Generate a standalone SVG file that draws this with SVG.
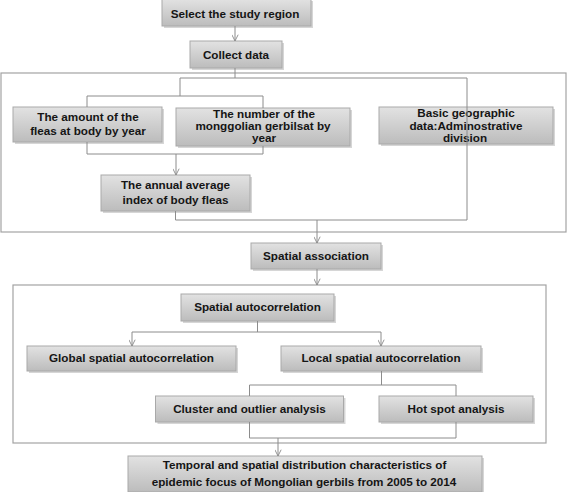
<svg xmlns="http://www.w3.org/2000/svg" width="567" height="492" viewBox="0 0 567 492">
<defs>
<linearGradient id="g" x1="0" y1="0" x2="0" y2="1">
<stop offset="0" stop-color="#e2e2e2"/>
<stop offset="1" stop-color="#bcbcbc"/>
</linearGradient>
<marker id="a" viewBox="0 0 10 10" refX="10" refY="5" markerWidth="7" markerHeight="7" markerUnits="userSpaceOnUse" orient="auto">
<path d="M1,0.5 L10,5 L1,9.5" fill="none" stroke="#8a8a8a" stroke-width="1.3"/>
</marker>
</defs>
<style>
.b{fill:url(#g);stroke:#a9a9a9;stroke-width:1}
.sh{fill:#d6d6d6}
.f{fill:none;stroke:#a3a3a3;stroke-width:1.2}
.c{fill:none;stroke:#8c8c8c;stroke-width:1}
.ar{marker-end:url(#a)}
text{font-family:"Liberation Sans",Arial,sans-serif;font-weight:bold;font-size:11.7px;fill:#151515;text-anchor:middle}
</style>
<rect width="567" height="492" fill="#fff"/>
<g id="frames">
<rect class="f" x="1" y="73" width="565" height="159"/>
<rect class="f" x="13" y="285" width="533" height="158"/>
</g>
<g id="select">
<rect class="sh" x="164" y="1" width="149" height="27"/>
<rect class="b" x="162" y="-1" width="149" height="27"/>
<text x="235" y="18">Select the study region</text>
</g>
<g id="collect">
<rect class="sh" x="192" y="43" width="92" height="27"/>
<rect class="b" x="190" y="41" width="92" height="27"/>
<text x="236" y="59">Collect data</text>
</g>
<g id="fleas">
<rect class="sh" x="15" y="109" width="149" height="35"/>
<rect class="b" x="13" y="107" width="149" height="35"/>
<text x="88" y="121">The amount of the</text>
<text x="88" y="135">fleas at body by year</text>
</g>
<g id="gerbils">
<rect class="sh" x="178" y="110" width="174" height="38"/>
<rect class="b" x="176" y="108" width="174" height="38"/>
<text x="264" y="118">The number of the</text>
<text x="263" y="130">monggolian gerbilsat by</text>
<text x="264" y="141.5">year</text>
</g>
<g id="geo">
<rect class="sh" x="381" y="109" width="174" height="37"/>
<rect class="b" x="379" y="107" width="174" height="37"/>
<text x="466" y="117">Basic geographic</text>
<text x="466" y="130">data:Adminostrative</text>
<text x="465" y="142">division</text>
</g>
<g id="annual">
<rect class="sh" x="103" y="177" width="149" height="36"/>
<rect class="b" x="101" y="175" width="149" height="36"/>
<text x="175.5" y="189">The annual average</text>
<text x="175.5" y="204">index of body fleas</text>
</g>
<g id="association">
<rect class="sh" x="253" y="245" width="130" height="26"/>
<rect class="b" x="251" y="243" width="130" height="26"/>
<text x="316" y="260">Spatial association</text>
</g>
<g id="autocorrelation">
<rect class="sh" x="183" y="296" width="153" height="27"/>
<rect class="b" x="181" y="294" width="153" height="27"/>
<text x="257.5" y="311">Spatial autocorrelation</text>
</g>
<g id="global">
<rect class="sh" x="29" y="348" width="209" height="25"/>
<rect class="b" x="27" y="346" width="209" height="25"/>
<text x="131.5" y="362">Global spatial autocorrelation</text>
</g>
<g id="local">
<rect class="sh" x="283" y="348" width="200" height="25"/>
<rect class="b" x="281" y="346" width="200" height="25"/>
<text x="381" y="362">Local spatial autocorrelation</text>
</g>
<g id="cluster">
<rect class="sh" x="157.5" y="398" width="188" height="26"/>
<rect class="b" x="155.5" y="396" width="188" height="26"/>
<text x="249.5" y="413">Cluster and outlier analysis</text>
</g>
<g id="hotspot">
<rect class="sh" x="381" y="398" width="154" height="26"/>
<rect class="b" x="379" y="396" width="154" height="26"/>
<text x="456" y="413">Hot spot analysis</text>
</g>
<g id="result">
<rect class="sh" x="130" y="458" width="354" height="36"/>
<rect class="b" x="128" y="456" width="354" height="36"/>
<text x="304.5" y="469">Temporal and spatial distribution characteristics of</text>
<text x="304" y="486">epidemic focus of Mongolian gerbils from 2005 to 2014</text>
</g>
<g id="connectors">
<path class="c ar" d="M235,26 V41"/>
<path class="c" d="M235,68 V78 M180,78 H467 M180,78 V96 M87,96 H263 M87,96 V107 M263,96 V108"/>
<path class="c" d="M467,78 V220 M175.5,211 V220 H467"/>
<path class="c" d="M87,142 V154 H263 V146"/>
<path class="c ar" d="M176,154 V175"/>
<path class="c ar" d="M317,220 V243"/>
<path class="c ar" d="M317,269 V285"/>
<path class="c" d="M257.5,321 V332 M132,332 H381"/>
<path class="c ar" d="M132,332 V346"/>
<path class="c ar" d="M381,332 V346"/>
<path class="c" d="M381.5,371 V385 M249.5,385 H456 M249.5,385 V396 M456,385 V396"/>
<path class="c" d="M249.5,422 V438 H456 V422"/>
<path class="c ar" d="M278,438 V456"/>
</g>
</svg>
